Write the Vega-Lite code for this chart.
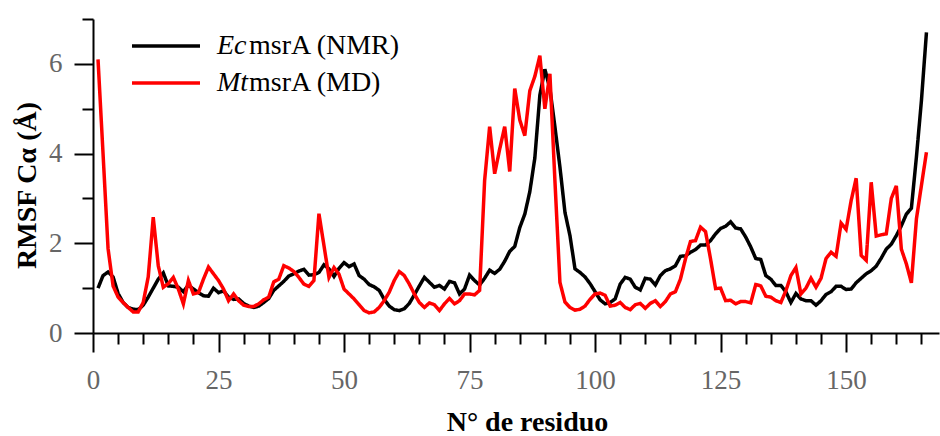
{
  "$schema": "https://vega.github.io/schema/vega-lite/v6.json",
  "width": 846,
  "height": 314,
  "autosize": {"type": "none"},
  "padding": {"left": 93, "top": 19, "right": 1, "bottom": 103},
  "background": "white",
  "config": {"view": {"stroke": null}, "font": "Liberation Serif"},
  "data": {"values": [
    {"r":1,"Ec":1.00,"Mt":6.10},{"r":2,"Ec":1.28,"Mt":4.00},{"r":3,"Ec":1.36,"Mt":1.88},{"r":4,"Ec":1.25,"Mt":1.05},{"r":5,"Ec":0.88,"Mt":0.80},
    {"r":6,"Ec":0.68,"Mt":0.68},{"r":7,"Ec":0.57,"Mt":0.57},{"r":8,"Ec":0.53,"Mt":0.47},{"r":9,"Ec":0.52,"Mt":0.47},{"r":10,"Ec":0.62,"Mt":0.68},
    {"r":11,"Ec":0.80,"Mt":1.25},{"r":12,"Ec":1.00,"Mt":2.58},{"r":13,"Ec":1.20,"Mt":1.50},{"r":14,"Ec":1.34,"Mt":1.02},{"r":15,"Ec":1.05,"Mt":1.10},
    {"r":16,"Ec":1.04,"Mt":1.24},{"r":17,"Ec":1.02,"Mt":0.98},{"r":18,"Ec":0.92,"Mt":0.65},{"r":19,"Ec":1.07,"Mt":1.17},{"r":20,"Ec":0.98,"Mt":0.87},
    {"r":21,"Ec":0.90,"Mt":0.90},{"r":22,"Ec":0.83,"Mt":1.20},{"r":23,"Ec":0.82,"Mt":1.47},{"r":24,"Ec":1.00,"Mt":1.32},{"r":25,"Ec":0.90,"Mt":1.17},
    {"r":26,"Ec":0.94,"Mt":0.98},{"r":27,"Ec":0.80,"Mt":0.72},{"r":28,"Ec":0.75,"Mt":0.87},{"r":29,"Ec":0.76,"Mt":0.72},{"r":30,"Ec":0.66,"Mt":0.62},
    {"r":31,"Ec":0.60,"Mt":0.59},{"r":32,"Ec":0.57,"Mt":0.59},{"r":33,"Ec":0.60,"Mt":0.65},{"r":34,"Ec":0.68,"Mt":0.74},{"r":35,"Ec":0.77,"Mt":0.80},
    {"r":36,"Ec":0.95,"Mt":1.14},{"r":37,"Ec":1.05,"Mt":1.20},{"r":38,"Ec":1.15,"Mt":1.50},{"r":39,"Ec":1.27,"Mt":1.45},{"r":40,"Ec":1.32,"Mt":1.37},
    {"r":41,"Ec":1.38,"Mt":1.24},{"r":42,"Ec":1.42,"Mt":1.09},{"r":43,"Ec":1.29,"Mt":1.04},{"r":44,"Ec":1.30,"Mt":1.17},{"r":45,"Ec":1.35,"Mt":2.66},
    {"r":46,"Ec":1.52,"Mt":1.95},{"r":47,"Ec":1.43,"Mt":1.24},{"r":48,"Ec":1.26,"Mt":1.46},{"r":49,"Ec":1.44,"Mt":1.31},{"r":50,"Ec":1.57,"Mt":0.98},
    {"r":51,"Ec":1.48,"Mt":0.87},{"r":52,"Ec":1.54,"Mt":0.76},{"r":53,"Ec":1.28,"Mt":0.63},{"r":54,"Ec":1.20,"Mt":0.50},{"r":55,"Ec":1.08,"Mt":0.45},
    {"r":56,"Ec":1.03,"Mt":0.47},{"r":57,"Ec":0.95,"Mt":0.57},{"r":58,"Ec":0.75,"Mt":0.72},{"r":59,"Ec":0.60,"Mt":0.91},{"r":60,"Ec":0.52,"Mt":1.17},
    {"r":61,"Ec":0.50,"Mt":1.37},{"r":62,"Ec":0.54,"Mt":1.28},{"r":63,"Ec":0.66,"Mt":1.09},{"r":64,"Ec":0.85,"Mt":0.87},{"r":65,"Ec":1.05,"Mt":0.68},
    {"r":66,"Ec":1.24,"Mt":0.57},{"r":67,"Ec":1.13,"Mt":0.67},{"r":68,"Ec":1.02,"Mt":0.63},{"r":69,"Ec":1.06,"Mt":0.50},{"r":70,"Ec":0.98,"Mt":0.65},
    {"r":71,"Ec":1.15,"Mt":0.77},{"r":72,"Ec":1.12,"Mt":0.65},{"r":73,"Ec":0.87,"Mt":0.72},{"r":74,"Ec":0.98,"Mt":0.87},{"r":75,"Ec":1.29,"Mt":0.87},
    {"r":76,"Ec":1.17,"Mt":0.85},{"r":77,"Ec":1.07,"Mt":0.95},{"r":78,"Ec":1.22,"Mt":3.40},{"r":79,"Ec":1.40,"Mt":4.60},{"r":80,"Ec":1.33,"Mt":3.55},
    {"r":81,"Ec":1.42,"Mt":4.10},{"r":82,"Ec":1.60,"Mt":4.60},{"r":83,"Ec":1.82,"Mt":3.60},{"r":84,"Ec":1.93,"Mt":5.45},{"r":85,"Ec":2.35,"Mt":4.75},
    {"r":86,"Ec":2.65,"Mt":4.40},{"r":87,"Ec":3.15,"Mt":5.40},{"r":88,"Ec":3.90,"Mt":5.72},{"r":89,"Ec":5.30,"Mt":6.18},{"r":90,"Ec":5.88,"Mt":5.00},
    {"r":91,"Ec":5.45,"Mt":5.78},{"r":92,"Ec":4.60,"Mt":3.40},{"r":93,"Ec":3.70,"Mt":1.13},{"r":94,"Ec":2.69,"Mt":0.69},{"r":95,"Ec":2.17,"Mt":0.57},
    {"r":96,"Ec":1.43,"Mt":0.51},{"r":97,"Ec":1.35,"Mt":0.53},{"r":98,"Ec":1.25,"Mt":0.60},{"r":99,"Ec":1.10,"Mt":0.75},{"r":100,"Ec":0.92,"Mt":0.87},
    {"r":101,"Ec":0.74,"Mt":0.89},{"r":102,"Ec":0.65,"Mt":0.84},{"r":103,"Ec":0.68,"Mt":0.60},{"r":104,"Ec":0.76,"Mt":0.62},{"r":105,"Ec":1.09,"Mt":0.68},
    {"r":106,"Ec":1.24,"Mt":0.57},{"r":107,"Ec":1.20,"Mt":0.52},{"r":108,"Ec":1.02,"Mt":0.63},{"r":109,"Ec":0.96,"Mt":0.66},{"r":110,"Ec":1.22,"Mt":0.55},
    {"r":111,"Ec":1.20,"Mt":0.66},{"r":112,"Ec":1.07,"Mt":0.72},{"r":113,"Ec":1.28,"Mt":0.59},{"r":114,"Ec":1.39,"Mt":0.70},{"r":115,"Ec":1.43,"Mt":0.87},
    {"r":116,"Ec":1.50,"Mt":0.92},{"r":117,"Ec":1.71,"Mt":1.20},{"r":118,"Ec":1.72,"Mt":1.65},{"r":119,"Ec":1.80,"Mt":2.04},{"r":120,"Ec":1.86,"Mt":2.06},
    {"r":121,"Ec":1.96,"Mt":2.36},{"r":122,"Ec":1.96,"Mt":2.26},{"r":123,"Ec":2.06,"Mt":1.65},{"r":124,"Ec":2.21,"Mt":0.99},{"r":125,"Ec":2.33,"Mt":1.00},
    {"r":126,"Ec":2.38,"Mt":0.72},{"r":127,"Ec":2.48,"Mt":0.73},{"r":128,"Ec":2.34,"Mt":0.65},{"r":129,"Ec":2.32,"Mt":0.70},{"r":130,"Ec":2.14,"Mt":0.70},
    {"r":131,"Ec":1.92,"Mt":0.67},{"r":132,"Ec":1.66,"Mt":1.08},{"r":133,"Ec":1.64,"Mt":1.05},{"r":134,"Ec":1.28,"Mt":0.82},{"r":135,"Ec":1.20,"Mt":0.80},
    {"r":136,"Ec":1.06,"Mt":0.72},{"r":137,"Ec":1.06,"Mt":0.68},{"r":138,"Ec":0.92,"Mt":0.94},{"r":139,"Ec":0.68,"Mt":1.28},{"r":140,"Ec":0.88,"Mt":1.46},
    {"r":141,"Ec":0.76,"Mt":0.87},{"r":142,"Ec":0.72,"Mt":1.00},{"r":143,"Ec":0.72,"Mt":1.22},{"r":144,"Ec":0.62,"Mt":1.02},{"r":145,"Ec":0.72,"Mt":1.22},
    {"r":146,"Ec":0.86,"Mt":1.66},{"r":147,"Ec":0.92,"Mt":1.80},{"r":148,"Ec":1.04,"Mt":1.71},{"r":149,"Ec":1.04,"Mt":2.45},{"r":150,"Ec":0.97,"Mt":2.31},
    {"r":151,"Ec":0.98,"Mt":2.95},{"r":152,"Ec":1.12,"Mt":3.45},{"r":153,"Ec":1.22,"Mt":1.73},{"r":154,"Ec":1.32,"Mt":1.62},{"r":155,"Ec":1.39,"Mt":3.36},
    {"r":156,"Ec":1.49,"Mt":2.16},{"r":157,"Ec":1.67,"Mt":2.19},{"r":158,"Ec":1.87,"Mt":2.21},{"r":159,"Ec":1.98,"Mt":3.00},{"r":160,"Ec":2.17,"Mt":3.28},
    {"r":161,"Ec":2.39,"Mt":1.87},{"r":162,"Ec":2.65,"Mt":1.54},{"r":163,"Ec":2.78,"Mt":1.12},{"r":164,"Ec":3.92,"Mt":2.54},{"r":165,"Ec":5.18,"Mt":3.29},
    {"r":166,"Ec":6.70,"Mt":4.03}
  ]},
  "transform": [{"fold": ["Ec", "Mt"], "as": ["series", "rmsf"]}],
  "mark": {"type": "line", "strokeWidth": 3.5, "strokeJoin": "miter"},
  "encoding": {
    "x": {
      "field": "r", "type": "quantitative",
      "scale": {"domain": [0, 168.5], "nice": false, "zero": false},
      "axis": {
        "values": [0,5,10,15,20,25,30,35,40,45,50,55,60,65,70,75,80,85,90,95,100,105,110,115,120,125,130,135,140,145,150,155,160,165],
        "labelExpr": "datum.value % 25 === 0 ? datum.label : ''",
        "tickSize": {"condition": {"test": "datum.value % 25 === 0", "value": 19}, "value": 11},
        "tickWidth": 2, "tickColor": "black", "domainColor": "black", "domainWidth": 2,
        "grid": false, "labelOverlap": false, "labelFlush": false,
        "labelFont": "Liberation Serif", "labelFontSize": 27, "labelColor": "#666666", "labelPadding": 15,
        "title": "N° de residuo", "titleFont": "Liberation Serif", "titleFontSize": 28, "titleFontWeight": "bold",
        "titleColor": "black", "titleX": 434, "titleY": 97, "titleBaseline": "alphabetic", "titleAlign": "center"
      }
    },
    "y": {
      "field": "rmsf", "type": "quantitative",
      "scale": {"domain": [0, 7], "nice": false},
      "axis": {
        "values": [0,1,2,3,4,5,6,7],
        "labelExpr": "datum.value % 2 === 0 ? datum.label : ''",
        "tickSize": {"condition": {"test": "datum.value % 2 === 0", "value": 19}, "value": 11},
        "tickWidth": 2, "tickColor": "black", "domainColor": "black", "domainWidth": 2,
        "grid": false, "labelOverlap": false, "labelFlush": false,
        "labelFont": "Liberation Serif", "labelFontSize": 27, "labelColor": "#666666", "labelPadding": 12,
        "title": "RMSF Cα (Å)", "titleFont": "Liberation Serif", "titleFontSize": 28, "titleFontWeight": "bold",
        "titleColor": "black", "titleX": -58, "titleY": 166, "titleBaseline": "alphabetic", "titleAlign": "center", "titleAngle": -90
      }
    },
    "color": {
      "field": "series", "type": "nominal",
      "scale": {"domain": ["Ec", "Mt"], "range": ["#000000", "#ff0000"]},
      "legend": {
        "orient": "none", "legendX": 37, "legendY": 12, "title": null, "padding": 0,
        "symbolType": "stroke", "symbolSize": 4624, "symbolStrokeWidth": 3.5,
        "labelFont": "Liberation Serif", "labelFontSize": 28, "labelFontStyle": "italic", "labelColor": "black",
        "labelOffset": 15, "clipHeight": 30, "rowPadding": 7
      }
    },
    "strokeDash": {
      "field": "series", "type": "nominal",
      "scale": {"domain": ["Mt", "Ec"], "range": [[1, 0], [1, 0]]},
      "legend": {
        "orient": "none", "legendX": 128, "legendY": 12, "title": null, "padding": 0,
        "symbolType": "stroke", "symbolSize": 0, "symbolOpacity": 0, "symbolStrokeWidth": 0,
        "labelExpr": "datum.value === 'Mt' ? 'msrA (NMR)' : 'msrA (MD)'",
        "labelFont": "Liberation Serif", "labelFontSize": 28, "labelFontStyle": "normal", "labelColor": "black",
        "labelOffset": 0, "clipHeight": 30, "rowPadding": 7
      }
    }
  }
}
